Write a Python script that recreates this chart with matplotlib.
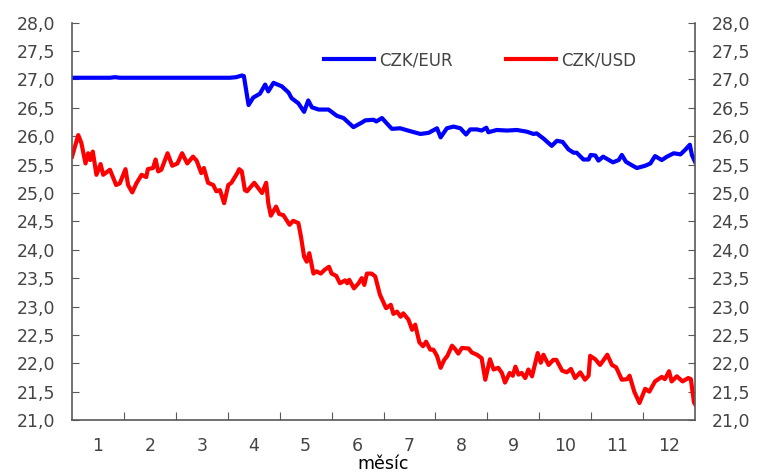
import numpy as np
import matplotlib
matplotlib.use("Agg")
from matplotlib import pyplot as plt
from matplotlib.ticker import FuncFormatter, FixedLocator

# CZK/EUR (x = fraction of year in months, 0..12)
eur_x = [0.0, 0.73, 0.83, 0.92, 3.04, 3.16, 3.27, 3.31, 3.40, 3.49, 3.62, 3.72,
         3.78, 3.88, 4.04, 4.17, 4.23, 4.36, 4.47, 4.55, 4.62, 4.75, 4.94, 5.10,
         5.23, 5.42, 5.58, 5.65, 5.81, 5.86, 5.97, 6.06, 6.16, 6.32, 6.51, 6.71,
         6.87, 7.03, 7.10, 7.22, 7.35, 7.48, 7.59, 7.67, 7.80, 7.89, 7.98, 8.02,
         8.18, 8.38, 8.57, 8.76, 8.89, 8.95, 9.08, 9.24, 9.34, 9.45, 9.56, 9.66,
         9.72, 9.85, 9.95, 9.99, 10.08, 10.14, 10.23, 10.42, 10.53, 10.59, 10.67,
         10.78, 10.88, 11.04, 11.14, 11.23, 11.36, 11.46, 11.59, 11.72, 11.81,
         11.90, 11.94, 12.0]
eur_y = [27.03, 27.03, 27.04, 27.03, 27.03, 27.04, 27.07, 27.06, 26.55, 26.68,
         26.75, 26.91, 26.79, 26.94, 26.88, 26.77, 26.67, 26.58, 26.43, 26.63,
         26.51, 26.47, 26.47, 26.36, 26.32, 26.16, 26.24, 26.28, 26.29, 26.26,
         26.32, 26.23, 26.13, 26.14, 26.09, 26.04, 26.06, 26.14, 25.98, 26.14,
         26.17, 26.14, 26.03, 26.12, 26.12, 26.10, 26.15, 26.07, 26.11, 26.10,
         26.11, 26.08, 26.04, 26.05, 25.96, 25.83, 25.92, 25.90, 25.77, 25.71,
         25.71, 25.59, 25.59, 25.67, 25.66, 25.57, 25.64, 25.54, 25.58, 25.67,
         25.55, 25.49, 25.44, 25.48, 25.52, 25.65, 25.58, 25.64, 25.70, 25.68,
         25.76, 25.85, 25.67, 25.55]

# CZK/USD
usd_x = [0.0, 0.12, 0.18, 0.26, 0.31, 0.35, 0.40, 0.47, 0.55, 0.60, 0.73, 0.85,
         0.92, 1.03, 1.08, 1.16, 1.24, 1.34, 1.43, 1.46, 1.56, 1.61, 1.66, 1.72,
         1.84, 1.93, 2.03, 2.12, 2.22, 2.33, 2.40, 2.49, 2.54, 2.62, 2.72, 2.78,
         2.85, 2.93, 3.01, 3.07, 3.19, 3.22, 3.27, 3.33, 3.37, 3.51, 3.66, 3.74,
         3.78, 3.83, 3.93, 3.99, 4.07, 4.19, 4.26, 4.36, 4.41, 4.47, 4.52, 4.57,
         4.65, 4.71, 4.79, 4.87, 4.95, 5.00, 5.09, 5.16, 5.26, 5.30, 5.34, 5.43,
         5.52, 5.58, 5.63, 5.68, 5.77, 5.84, 5.93, 6.05, 6.14, 6.19, 6.26, 6.33,
         6.38, 6.48, 6.55, 6.61, 6.69, 6.76, 6.82, 6.90, 6.96, 7.03, 7.10, 7.17,
         7.23, 7.32, 7.38, 7.44, 7.51, 7.64, 7.70, 7.80, 7.89, 7.96, 8.05, 8.12,
         8.21, 8.28, 8.34, 8.43, 8.49, 8.54, 8.60, 8.66, 8.73, 8.79, 8.86, 8.97,
         9.03, 9.08, 9.18, 9.27, 9.33, 9.44, 9.53, 9.61, 9.69, 9.79, 9.88, 9.95,
         9.98, 10.08, 10.17, 10.25, 10.31, 10.40, 10.48, 10.59, 10.69, 10.74,
         10.83, 10.93, 11.04, 11.12, 11.23, 11.36, 11.42, 11.50, 11.55, 11.65,
         11.76, 11.87, 11.92, 11.98, 12.0]
usd_y = [25.64, 26.02, 25.88, 25.52, 25.70, 25.58, 25.73, 25.32, 25.51, 25.32,
         25.41, 25.14, 25.17, 25.42, 25.14, 25.01, 25.17, 25.32, 25.28, 25.42,
         25.44, 25.59, 25.38, 25.41, 25.70, 25.48, 25.52, 25.70, 25.52, 25.64,
         25.57, 25.35, 25.44, 25.18, 25.14, 25.03, 25.05, 24.82, 25.14, 25.18,
         25.36, 25.42, 25.38, 25.05, 25.03, 25.18, 25.00, 25.18, 24.82, 24.60,
         24.76, 24.63, 24.61, 24.44, 24.51, 24.47, 24.23, 23.88, 23.79, 23.94,
         23.58, 23.62, 23.58, 23.65, 23.70, 23.58, 23.54, 23.41, 23.46, 23.41,
         23.47, 23.32, 23.41, 23.50, 23.38, 23.58, 23.58, 23.53, 23.21, 22.97,
         23.03, 22.87, 22.91, 22.82, 22.88, 22.77, 22.59, 22.68, 22.37, 22.30,
         22.38, 22.24, 22.24, 22.13, 21.92, 22.06, 22.13, 22.31, 22.25, 22.17,
         22.27, 22.26, 22.19, 22.15, 22.09, 21.71, 22.07, 21.89, 21.92, 21.83,
         21.66, 21.83, 21.78, 21.94, 21.80, 21.83, 21.74, 21.89, 21.77, 22.18,
         22.01, 22.15, 21.97, 22.06, 22.06, 21.87, 21.84, 21.90, 21.74, 21.84,
         21.71, 21.78, 22.13, 22.07, 21.97, 22.07, 22.15, 21.97, 21.93, 21.71,
         21.72, 21.78, 21.50, 21.30, 21.55, 21.50, 21.68, 21.76, 21.72, 21.86,
         21.68, 21.77, 21.68, 21.74, 21.72, 21.31, 21.28]

month_labels = [str(m) for m in range(1, 13)]
y_ticks = np.arange(21.0, 28.01, 0.5)

text_col = "#444444"
spine_col = "#595959"

fig = plt.figure(figsize=(7.59, 4.76), dpi=100)
ax = fig.add_axes([0.0949, 0.1176, 0.8208, 0.8347])

ax.plot(eur_x, eur_y, color="#0000FF", lw=3, label="CZK/EUR", solid_joinstyle="round")
ax.plot(usd_x, usd_y, color="#FF0000", lw=3, label="CZK/USD", solid_joinstyle="round")

ax.set_xlim(0, 12)
ax.set_ylim(21, 28)

# month boundaries as ticks, labels in the middle of each month
ax.xaxis.set_major_locator(FixedLocator(np.arange(1, 12)))
ax.xaxis.set_minor_locator(FixedLocator(np.arange(0.5, 12, 1)))
ax.set_xticklabels([], minor=False)
ax.set_xticklabels(month_labels, minor=True)
ax.tick_params(axis="x", which="major", direction="in", length=6, color=spine_col)
ax.tick_params(axis="x", which="minor", length=0, pad=12, labelsize=12.5, labelcolor=text_col)

ax.set_yticks(y_ticks)
ax.yaxis.set_major_formatter(FuncFormatter(lambda v, p: f"{v:.1f}".replace(".", ",")))
ax.tick_params(axis="y", direction="in", length=5, color=spine_col, labelsize=12.5,
               labelcolor=text_col, left=True, right=True, labelleft=True,
               labelright=True, pad=12)

for s in ["left", "bottom", "right"]:
    ax.spines[s].set_color(spine_col)
    ax.spines[s].set_linewidth(1.2)
ax.spines["top"].set_visible(False)

ax.set_xlabel("měsíc", fontsize=12.5, color="black", labelpad=0)

ax.legend(loc="center", bbox_to_anchor=(0.655, 0.906), ncol=2, frameon=False,
          fontsize=12, handlelength=3.0, columnspacing=3.2, handletextpad=0.3,
          labelcolor=text_col)

fig.savefig("out.png", dpi=100)
